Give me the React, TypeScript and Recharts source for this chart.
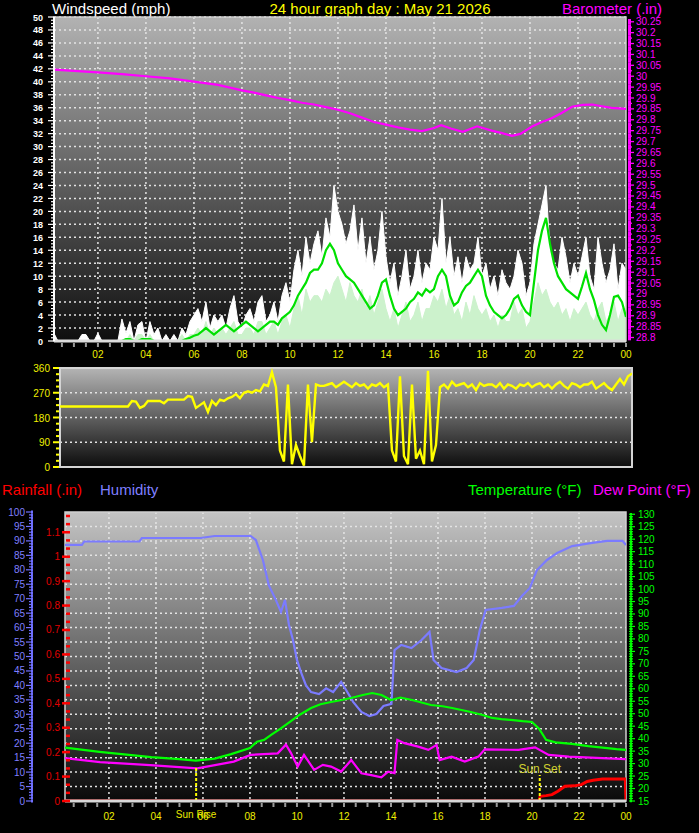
import React from 'react';
import { ComposedChart, Area, Line, XAxis, YAxis, CartesianGrid, ReferenceLine, ReferenceArea } from 'recharts';

const FONT = '"Liberation Sans", Arial, Helvetica, sans-serif';

// ---------------- Top panel: wind speed (10-minute slots) ----------------
const gustMph = [
  1.2, 0, 0, 0, 0, 0,
  0, 1, 1, 0, 0, 1.2,
  0, 0, 0, 0, 0, 3.4,
  1.2, 3, 0, 2.5, 3, 0,
  3, 1, 2, 0, 1, 0,
  1, 0, 2, 1, 3, 4,
  5, 3, 6, 2, 4, 3,
  4, 2, 5, 7, 3, 2,
  4, 5, 3, 6, 7, 3,
  4, 6, 3, 7, 9, 6,
  11, 14, 10, 16, 12, 15,
  17, 13, 19, 16, 24, 20,
  18, 15, 17, 21, 14, 19,
  12, 16, 11, 14, 20, 13,
  9, 12, 7, 10, 14, 8,
  10, 14, 9, 12, 11, 16,
  14, 22, 12, 16, 10, 13,
  9, 13, 11, 12, 16, 10,
  12, 8, 10, 7, 11, 9,
  8, 10, 14, 12, 7, 9,
  15, 18, 21, 24, 14, 12,
  11, 16, 13, 9, 12, 10,
  13, 16, 10, 8, 16, 12,
  9, 11, 15, 8, 12, 11,
];
const speedMph = [
  0, 0, 0, 0, 0, 0,
  0, 0, 0, 0, 0, 0,
  0, 0, 0, 0, 0, 0,
  0, 1, 0, 1, 1, 0,
  1, 0, 0, 0, 0, 0,
  0, 0, 1, 0, 1, 1,
  2, 1, 3, 1, 2, 1,
  2, 1, 2, 3, 1, 1,
  2, 2, 1, 3, 3, 1,
  2, 3, 1, 3, 4, 2,
  5, 7, 4, 8, 6, 7,
  7, 6, 8, 7, 9, 10,
  8, 6, 9, 7, 6, 8,
  5, 7, 4, 6, 8, 5,
  3, 5, 2, 4, 6, 3,
  4, 6, 3, 5, 5, 7,
  6, 8, 5, 7, 4, 5,
  3, 6, 4, 7, 5, 4,
  5, 3, 4, 2, 4, 3,
  3, 6, 4, 5, 2, 3,
  6, 9, 7, 8, 6, 5,
  6, 4, 5, 3, 5, 4,
  5, 6, 4, 3, 5, 6,
  3, 4, 6, 3, 5, 5,
];
const avgMph = [
  0, 0, 0, 0, 0, 0,
  0, 0, 0, 0, 0, 0,
  0, 0, 0, 0, 0, 0,
  0.3, 0.3, 0, 0, 0.3, 0.3,
  0.3, 0, 0, 0, 0, 0,
  0, 0, 0, 0.3, 0.5, 0.8,
  1, 1.5, 2, 1.5, 1, 1.5,
  2, 2.5, 2, 1.5, 2, 2.5,
  3, 2.5, 2, 1.5, 2, 2.5,
  3, 3, 2.5, 3.5, 4, 4.5,
  5.5, 7, 8, 9, 10.5, 11,
  11, 12, 14, 15, 14, 12,
  11, 10, 9.5, 9, 8, 7,
  6, 5, 5.5, 7, 9, 9.5,
  7, 5, 4, 4.5, 5, 6,
  6.5, 7.5, 7, 8, 7.5, 8,
  10, 11, 10, 7, 5.5, 6,
  7.5, 8.5, 9, 10, 11, 10,
  7, 5.5, 4.5, 4, 3.5, 4,
  5, 6.5, 7, 5.5, 4.5, 4,
  9, 14, 17, 19, 15, 12,
  10, 9, 8, 7.5, 7, 6.5,
  8.4, 10.5, 8, 6.3, 4, 2.5,
  1.7, 4, 6.8, 7, 6, 3.7,
];
const windDirDeg = [
  220, 220, 220, 220, 220, 220,
  220, 220, 220, 220, 220, 220,
  220, 220, 220, 220, 220, 220,
  240, 238, 215, 222, 240, 240,
  240, 240, 232, 245, 245, 245,
  245, 245, 258, 255, 215, 225,
  235, 200, 240, 225, 245, 240,
  250, 255, 265, 250, 270, 275,
  270, 280, 275, 300, 295, 345,
  290, 60, 20, 300, 10, 80,
  40, 5, 300, 90, 300, 295,
  295, 300, 305, 290, 300, 310,
  300, 290, 305, 295, 300, 285,
  300, 295, 305, 290, 300, 60,
  20, 330, 40, 10, 300, 30,
  60, 10, 350, 20, 80, 290,
  300, 285, 310, 295, 300, 305,
  290, 300, 280, 305, 295, 300,
  300, 290, 305, 285, 300, 295,
  285, 300, 295, 305, 290, 300,
  305, 290, 300, 285, 300, 310,
  295, 285, 305, 300, 290, 300,
  300, 310, 285, 295, 305, 290,
  280, 300, 320, 300, 330, 340,
];
const windSlotHours = gustMph.map((_, i) => (i + 1) / 6);

const baroHours = [0.17, 1, 2, 3, 4, 5, 6, 7, 8, 8.5, 9, 9.5, 10, 10.5, 11, 11.5, 12, 12.5, 13, 13.5, 14, 14.5, 15, 15.5, 16, 16.3, 16.7, 17.2, 17.8, 18.4, 18.8, 19.25, 19.6, 20.1, 20.5, 20.9, 21.3, 21.75, 22.2, 22.6, 23.0, 23.4, 24];
const baroInHg = [30.03, 30.025, 30.018, 30.01, 30.0, 29.99, 29.975, 29.96, 29.935, 29.925, 29.912, 29.9, 29.89, 29.878, 29.87, 29.858, 29.846, 29.83, 29.81, 29.79, 29.778, 29.765, 29.755, 29.748, 29.762, 29.775, 29.76, 29.745, 29.77, 29.75, 29.74, 29.726, 29.735, 29.77, 29.79, 29.807, 29.83, 29.86, 29.868, 29.87, 29.862, 29.855, 29.85];

// ---------------- Bottom panel ----------------
const humHours = [0.13, 0.85, 0.95, 3.3, 3.4, 5.9, 6.5, 8.03, 8.25, 8.55, 8.8, 9.1, 9.32, 9.49, 9.66, 9.83, 10.0, 10.17, 10.38, 10.6, 10.94, 11.24, 11.54, 11.88, 12.09, 12.39, 12.74, 13.08, 13.38, 13.68, 14.02, 14.15, 14.44, 14.87, 15.3, 15.64, 15.81, 16.15, 16.79, 17.22, 17.52, 17.78, 18.03, 18.72, 19.23, 19.57, 19.91, 20.21, 20.64, 21.07, 21.71, 22.56, 23.2, 23.85, 24];
const humPct = [88.6, 88.6, 89.8, 89.8, 91, 91, 91.7, 91.7, 90.3, 83.4, 74.7, 69.6, 65.4, 69.6, 60.9, 55.7, 48.8, 44.6, 40.1, 37.7, 37, 39, 37.7, 41.2, 38.4, 34.3, 30.8, 29.4, 30.1, 32.9, 33.6, 52.2, 54, 52.9, 55.7, 58.5, 48.8, 46, 44.6, 46, 48.8, 59.2, 66.1, 66.8, 67.5, 70.9, 73.7, 79.9, 83.4, 85.8, 88.2, 89.3, 90, 90, 88.6];

const tempHours = [0.13, 1.6, 3.8, 5.0, 5.7, 6.5, 7.2, 8.0, 8.3, 8.6, 8.9, 9.3, 9.7, 10.1, 10.6, 11.0, 11.45, 11.9, 12.3, 12.8, 13.2, 13.6, 14.0, 14.4, 14.9, 15.3, 15.7, 16.2, 16.6, 17.0, 17.4, 17.9, 18.3, 18.7, 19.1, 19.6, 20.0, 20.3, 20.6, 21.0, 21.7, 22.4, 23.0, 23.6, 24];
const tempF = [36.4, 34.7, 32.6, 31.8, 31.2, 32, 33.8, 36.2, 38.8, 39.5, 41.5, 44, 46.7, 49.5, 52.3, 53.8, 54.7, 55.5, 56.3, 57.5, 58.3, 57.5, 55.5, 56.5, 55.5, 54.5, 53.5, 53, 52.3, 51.5, 50.7, 49.5, 48.3, 47.8, 47.5, 47, 46.7, 44, 39.5, 38.5, 37.9, 37, 36.4, 35.8, 35.5];

const dewHours = [0.13, 1.62, 3.76, 5.76, 7.31, 8.03, 9.18, 9.53, 9.74, 10.03, 10.3, 10.73, 11.1, 11.45, 11.88, 12.31, 12.74, 13.16, 13.59, 13.88, 14.15, 14.27, 14.57, 15.16, 15.59, 15.94, 16.07, 16.58, 17.14, 17.72, 17.99, 19.43, 20.13, 20.71, 21.57, 22.99, 24];
const dewF = [32.2, 30.6, 29.4, 28.1, 30.8, 33.5, 34.1, 37.6, 34.3, 28.8, 33.5, 27.5, 29.5, 28.8, 26.8, 31.4, 26.1, 25.4, 24.5, 26.8, 26.2, 39.5, 38.2, 36.8, 35.5, 37.5, 31.4, 32.8, 30.8, 32.8, 35.7, 35.5, 36.5, 33.5, 32.8, 32.2, 31.8];

const rainHours = [0.13, 20.3, 20.35, 20.6, 20.85, 21.1, 21.4, 21.8, 22.1, 22.35, 22.6, 23.0, 23.97, 24];
const rainIn = [0, 0, 0.019, 0.022, 0.026, 0.04, 0.06, 0.062, 0.067, 0.08, 0.085, 0.09, 0.09, 0];

const sunRiseHour = 5.71;
const sunSetHour = 20.33;

// ---------------- tick / grid value lists ----------------
const evenHours = [2, 4, 6, 8, 10, 12, 14, 16, 18, 20, 22];
const halfHourTicks = Array.from({ length: 48 }, (_, i) => (i + 1) / 2);
const windTicks = Array.from({ length: 101 }, (_, i) => i / 2);
const windGrid = Array.from({ length: 25 }, (_, i) => (i + 1) * 2);
const baroTicks = Array.from({ length: 59 }, (_, i) => +(28.8 + i * 0.025).toFixed(3));
const dirTicks = Array.from({ length: 17 }, (_, i) => i * 22.5);
const dirLetterTicks = [0, 90, 180, 270, 360];
const dirLetters = ['N', 'E', 'S', 'W', 'N'];
const dirGrid = [90, 180, 270, 360];
const humTicks = Array.from({ length: 101 }, (_, i) => i);
const humGrid = Array.from({ length: 19 }, (_, i) => (i + 1) * 5);
const rainTicks = Array.from({ length: 36 }, (_, i) => i / 30);
const tempTicks = Array.from({ length: 116 }, (_, i) => 15 + i);

// ---------------- data tables ----------------
const windData = windSlotHours.map((t, i) => ({ t, gust: gustMph[i], speed: speedMph[i], avg: avgMph[i], dir: windDirDeg[i] }));
const baroData = baroHours.map((t, i) => ({ t, baro: baroInHg[i] }));
const humData = humHours.map((t, i) => ({ t, hum: humPct[i] }));
const tempData = tempHours.map((t, i) => ({ t, temp: tempF[i] }));
const dewData = dewHours.map((t, i) => ({ t, dew: dewF[i] }));
const rainData = rainHours.map((t, i) => ({ t, rain: rainIn[i] }));

const near = (a: number, b: number) => Math.abs(a - b) < 1e-6;
const hourLabel = (v: number) => String(Math.round(v) % 24).padStart(2, '0');

const makeHourTick = (labelDy: number) => (p: any) => {
  const v = p.payload.value;
  const even = near(v / 2, Math.round(v / 2));
  return (
    <g>
      <line x1={p.x} x2={p.x} y1={p.y + 2} y2={p.y + 6} stroke="#9a9a9a" strokeWidth={2} />
      {even && (
        <text x={p.x} y={p.y + labelDy} textAnchor="middle" fill="#f0f000" fontSize={10} fontFamily={FONT}>
          {hourLabel(v)}
        </text>
      )}
    </g>
  );
};

const WindTick = (p: any) => {
  const v = p.payload.value;
  const major = near(v / 2, Math.round(v / 2));
  return (
    <g>
      <line x1={p.x - (major ? 6 : 3)} x2={p.x} y1={p.y} y2={p.y} stroke="#ffffff" strokeWidth={1.2} />
      {major && (
        <text x={p.x - 11} y={p.y} dy={3.5} textAnchor="end" fill="#ffffff" fontSize={9} fontWeight="bold" fontFamily={FONT}>
          {v}
        </text>
      )}
    </g>
  );
};

const BaroTick = (p: any) => {
  const v = p.payload.value;
  const major = near(v / 0.05, Math.round(v / 0.05));
  return (
    <g>
      <line x1={p.x + 3.5} x2={p.x + 3.5} y1={p.y - 2.8} y2={p.y + 2.8} stroke="#ff00ff" strokeWidth={3} />
      <line x1={p.x + 2} x2={p.x + (major ? 8 : 6)} y1={p.y} y2={p.y} stroke="#ff00ff" strokeWidth={1.3} />
      {major && (
        <text x={p.x + 10} y={p.y} dy={3.5} textAnchor="start" fill="#ff00ff" fontSize={10} fontFamily={FONT}>
          {parseFloat(v.toFixed(2)).toString()}
        </text>
      )}
    </g>
  );
};

const DirTick = (p: any) => {
  const v = p.payload.value;
  const major = near(v / 90, Math.round(v / 90));
  return (
    <g>
      <line x1={p.x - (major ? 7 : 4)} x2={p.x - 1} y1={p.y} y2={p.y} stroke="#ffff00" strokeWidth={2} />
      {major && (
        <text x={p.x - 10} y={p.y} dy={4} textAnchor="end" fill="#f0f000" fontSize={10} fontFamily={FONT}>
          {v}
        </text>
      )}
    </g>
  );
};

const DirLetterTick = (p: any) => {
  const idx = dirLetterTicks.indexOf(p.payload.value);
  return (
    <text x={p.x + 26} y={p.y} dy={6} textAnchor="middle" fill="#ffff00" fontSize={17} fontFamily={FONT}>
      {dirLetters[idx]}
    </text>
  );
};

const HumTick = (p: any) => {
  const v = p.payload.value;
  const major = v % 5 === 0;
  return (
    <g>
      <line x1={p.x - 1} x2={p.x - 1} y1={p.y - 1.5} y2={p.y + 1.5} stroke="#7070ff" strokeWidth={2} />
      <line x1={p.x - (major ? 7 : 4)} x2={p.x} y1={p.y} y2={p.y} stroke="#7070ff" strokeWidth={1.2} />
      {major && (
        <text x={p.x - 8} y={p.y} dy={3.5} textAnchor="end" fill="#7f7fff" fontSize={10} fontFamily={FONT}>
          {v}
        </text>
      )}
    </g>
  );
};

const RainTick = (p: any) => {
  const v = p.payload.value;
  const i = Math.round(v * 30);
  const major = i % 3 === 0;
  return (
    <g>
      <line x1={p.x + (major ? -3 : 1)} x2={p.x + 5} y1={p.y} y2={p.y} stroke="#ff0000" strokeWidth={2.5} />
      {major && (
        <text x={p.x - 5} y={p.y} dy={3.5} textAnchor="end" fill="#e00000" fontSize={10} fontFamily={FONT}>
          {parseFloat((i / 30).toFixed(1)).toString()}
        </text>
      )}
    </g>
  );
};

const TempTick = (p: any) => {
  const v = p.payload.value;
  const major = v % 5 === 0;
  return (
    <g>
      <line x1={p.x + 5} x2={p.x + 5} y1={p.y - 1.3} y2={p.y + 1.3} stroke="#00ff00" strokeWidth={2} />
      <line x1={p.x + 3} x2={p.x + (major ? 9 : 7)} y1={p.y} y2={p.y} stroke="#00ff00" strokeWidth={1.2} />
      {major && (
        <text x={p.x + 12} y={p.y} dy={3.5} textAnchor="start" fill="#00ff00" fontSize={10} fontFamily={FONT}>
          {v}
        </text>
      )}
    </g>
  );
};

const GRID = { stroke: '#e4e4e4', strokeDasharray: '2 3', strokeWidth: 1.5 };

const TopChart = () => (
  <ComposedChart width={699} height={362} data={windData} margin={{ top: 17, right: 0, bottom: 0, left: 0 }}>
    <defs>
      <linearGradient id="bgTop" x1="0" y1="0" x2="0" y2="1">
        <stop offset="0%" stopColor="#b2b2b2" />
        <stop offset="100%" stopColor="#0e0e0e" />
      </linearGradient>
    </defs>
    <CartesianGrid fill="url(#bgTop)" fillOpacity={1} {...GRID} horizontalValues={windGrid} verticalValues={evenHours} />
    <Area dataKey="gust" type="linear" stroke="#ffffff" strokeWidth={1} fill="#ffffff" fillOpacity={1} dot={false} activeDot={false} isAnimationActive={false} />
    <Area dataKey="speed" type="linear" stroke="#ccf2cc" strokeWidth={1} fill="#ccf2cc" fillOpacity={1} dot={false} activeDot={false} isAnimationActive={false} />
    <Line dataKey="avg" type="linear" stroke="#00e000" strokeWidth={2.2} dot={false} activeDot={false} isAnimationActive={false} />
    <Line yAxisId="baro" data={baroData} dataKey="baro" type="linear" stroke="#ff00ff" strokeWidth={2.2} dot={false} activeDot={false} isAnimationActive={false} />
    <ReferenceArea x1={0.17} x2={24} y1={0} y2={50} fill="none" stroke="#cfcfcf" strokeWidth={1.5} ifOverflow="visible" />
    <XAxis dataKey="t" type="number" domain={[0.17, 24]} allowDataOverflow ticks={halfHourTicks} interval={0} tick={makeHourTick(16.5)} tickLine={false} tickSize={0} tickMargin={0} axisLine={{ stroke: '#dcdcdc', strokeWidth: 3 }} height={21} />
    <YAxis type="number" domain={[0, 50]} allowDataOverflow ticks={windTicks} interval={0} tick={WindTick} tickLine={false} tickSize={0} tickMargin={0} axisLine={{ stroke: '#ffffff', strokeWidth: 2 }} width={54} />
    <YAxis yAxisId="baro" orientation="right" type="number" domain={[28.784, 30.272]} allowDataOverflow ticks={baroTicks} interval={0} tick={BaroTick} tickLine={false} tickSize={0} tickMargin={0} axisLine={false} width={73} />
  </ComposedChart>
);

const DirChart = () => (
  <ComposedChart width={699} height={125} data={windData} margin={{ top: 13, right: 0, bottom: 13, left: 0 }}>
    <defs>
      <linearGradient id="bgDir" x1="0" y1="0" x2="0" y2="1">
        <stop offset="0%" stopColor="#b4b4b4" />
        <stop offset="100%" stopColor="#0c0c0c" />
      </linearGradient>
    </defs>
    <CartesianGrid fill="url(#bgDir)" fillOpacity={1} {...GRID} vertical={false} horizontalValues={dirGrid} />
    <Line dataKey="dir" type="linear" stroke="#ffff00" strokeWidth={2.4} dot={false} activeDot={false} isAnimationActive={false} />
    <ReferenceArea x1={0.17} x2={24} y1={0} y2={360} fill="none" stroke="#d4d4d4" strokeWidth={2} ifOverflow="visible" />
    <XAxis dataKey="t" type="number" domain={[0.17, 24]} allowDataOverflow hide />
    <YAxis type="number" domain={[0, 360]} allowDataOverflow ticks={dirTicks} interval={0} tick={DirTick} tickLine={false} tickSize={0} tickMargin={0} axisLine={false} width={60} />
    <YAxis yAxisId="letters" orientation="right" type="number" domain={[0, 360]} ticks={dirLetterTicks} interval={0} tick={DirLetterTick} tickLine={false} tickSize={0} tickMargin={0} axisLine={false} width={67} />
  </ComposedChart>
);

const BottomChart = () => (
  <ComposedChart width={699} height={333} margin={{ top: 12, right: 0, bottom: 0, left: 0 }}>
    <defs>
      <linearGradient id="bgBot" x1="0" y1="0" x2="0" y2="1">
        <stop offset="0%" stopColor="#c4c4c4" />
        <stop offset="100%" stopColor="#0a0a0a" />
      </linearGradient>
    </defs>
    <CartesianGrid yAxisId="b_hum" fill="url(#bgBot)" fillOpacity={1} {...GRID} horizontalValues={humGrid} verticalValues={evenHours} />
    <Line yAxisId="b_hum" data={humData} dataKey="hum" type="linear" stroke="#7b7bff" strokeWidth={2.2} dot={false} activeDot={false} isAnimationActive={false} />
    <Line yAxisId="c_temp" data={tempData} dataKey="temp" type="linear" stroke="#00ff00" strokeWidth={2.2} dot={false} activeDot={false} isAnimationActive={false} />
    <Line yAxisId="c_temp" data={dewData} dataKey="dew" type="linear" stroke="#ff00ff" strokeWidth={2.2} dot={false} activeDot={false} isAnimationActive={false} />
    <Line yAxisId="a_rain" data={rainData} dataKey="rain" type="linear" stroke="#ff0000" strokeWidth={3} dot={false} activeDot={false} isAnimationActive={false} />
    <ReferenceLine yAxisId="b_hum" segment={[{ x: sunRiseHour, y: 0 }, { x: sunRiseHour, y: 11.4 }]} stroke="#ffff00" strokeWidth={2} strokeDasharray="3 2" ifOverflow="visible" label={{ value: 'Sun Rise', position: 'bottom', offset: 10, fill: '#e8e800', fontSize: 10, fontFamily: FONT }} />
    <ReferenceLine yAxisId="b_hum" segment={[{ x: sunSetHour, y: 0 }, { x: sunSetHour, y: 9 }]} stroke="#ffff00" strokeWidth={2} strokeDasharray="3 2" ifOverflow="visible" label={{ value: 'Sun Set', position: 'top', offset: 2, fill: '#d0d030', fontSize: 12, fontFamily: FONT }} />
    <ReferenceArea yAxisId="b_hum" x1={0.13} x2={24} y1={0} y2={100} fill="none" stroke="#d0d0d0" strokeWidth={1.5} ifOverflow="visible" />
    <XAxis dataKey="t" type="number" domain={[0.13, 24]} allowDataOverflow ticks={halfHourTicks} interval={0} tick={makeHourTick(18.5)} tickLine={false} tickSize={0} tickMargin={0} axisLine={{ stroke: '#d8d8d8', strokeWidth: 3 }} height={32} />
    <YAxis yAxisId="a_rain" type="number" domain={[0, 1.183]} allowDataOverflow ticks={rainTicks} interval={0} tick={RainTick} tickLine={false} tickSize={0} tickMargin={0} axisLine={false} width={32} />
    <YAxis yAxisId="b_hum" type="number" domain={[0, 100]} allowDataOverflow ticks={humTicks} interval={0} tick={HumTick} tickLine={false} tickSize={0} tickMargin={0} axisLine={false} width={33} />
    <YAxis yAxisId="c_temp" orientation="right" type="number" domain={[15, 130.9]} allowDataOverflow ticks={tempTicks} interval={0} tick={TempTick} tickLine={false} tickSize={0} tickMargin={0} axisLine={false} width={73} />
  </ComposedChart>
);

export default function App() {
  return (
    <div style={{ position: 'absolute', left: 0, top: 0, width: 699, height: 833, background: '#000', overflow: 'hidden' }}>
      <svg width={699} height={833} style={{ position: 'absolute', left: 0, top: 0 }}>
        <text x={52} y={14} fill="#ffffff" fontSize={15} fontFamily={FONT}>Windspeed (mph)</text>
        <text x={380} y={14} fill="#ffff00" fontSize={15} textAnchor="middle" fontFamily={FONT}>24 hour graph day : May 21 2026</text>
        <text x={662} y={14} fill="#ff00ff" fontSize={15} textAnchor="end" fontFamily={FONT}>Barometer (.in)</text>
        <text x={2} y={495} fill="#ff0000" fontSize={15} fontFamily={FONT}>Rainfall (.in)</text>
        <text x={100} y={495} fill="#7f7fff" fontSize={15} fontFamily={FONT}>Humidity</text>
        <text x={468} y={495} fill="#00ff00" fontSize={15} fontFamily={FONT}>Temperature (°F)</text>
        <text x={593} y={495} fill="#ff00ff" fontSize={15} fontFamily={FONT}>Dew Point (°F)</text>
      </svg>
      <div style={{ position: 'absolute', left: 0, top: 0 }}><TopChart /></div>
      <div style={{ position: 'absolute', left: 0, top: 355 }}><DirChart /></div>
      <div style={{ position: 'absolute', left: 0, top: 500 }}><BottomChart /></div>
    </div>
  );
}
